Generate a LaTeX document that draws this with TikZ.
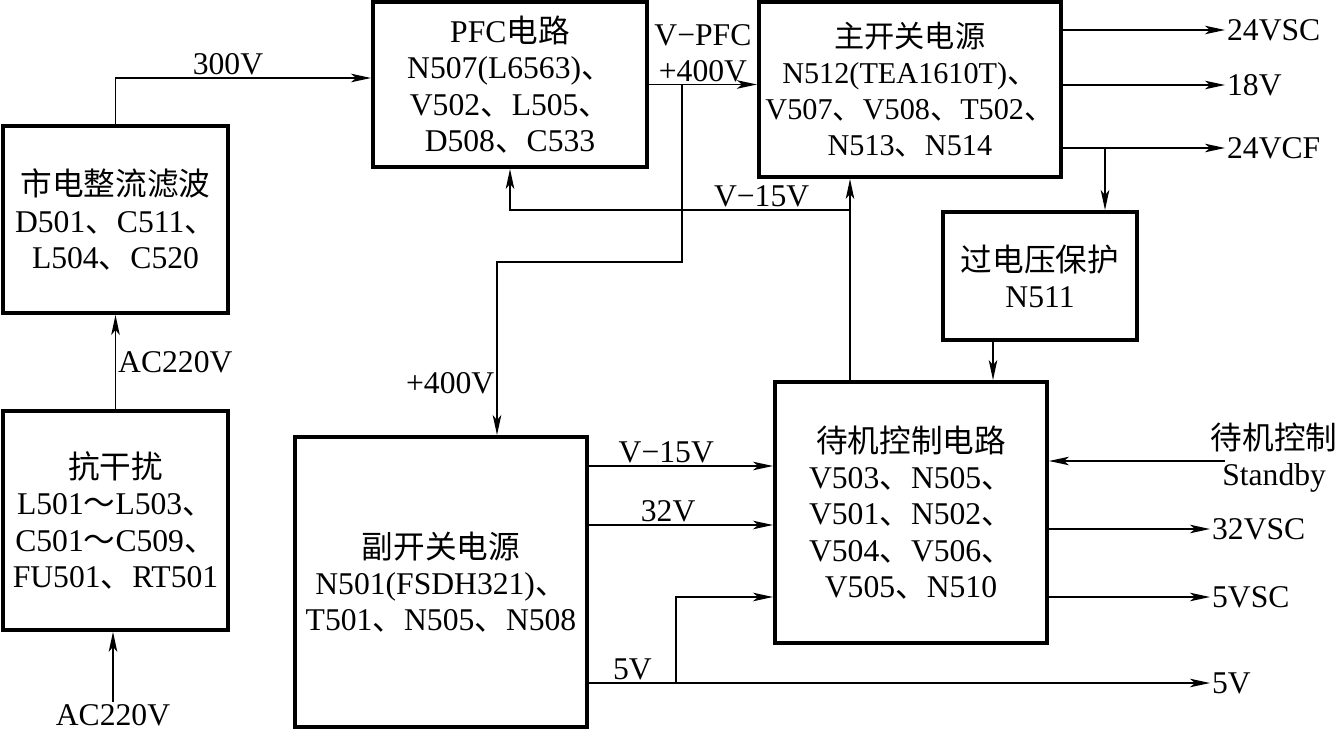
\documentclass[tikz,border=0pt]{standalone}
\usepackage{fontspec}
\setmainfont{Liberation Serif}
\newfontfamily\cjk{Noto Sans CJK SC}
\newcommand{\zh}[1]{{\cjk #1}}
\usetikzlibrary{arrows.meta, positioning}

\begin{document}
\begin{tikzpicture}[
    block/.style={rectangle, draw=black, line width=2.2pt, inner xsep=1pt, align=center, font=\fontsize{18}{20.6}\selectfont},
    sig/.style={inner sep=1pt, font=\fontsize{18}{20.6}\selectfont},
    line/.style={draw=black, line width=1.1pt, -{Stealth[length=4mm, width=1.7mm, inset=1mm]}}
]
    \useasboundingbox (0,0) rectangle (26.8,-14.62);

    % Input chain
    \node[block, minimum width=4.5cm, minimum height=3.74cm] (rect) at (2.31,-4.39) {\zh{市电整流滤波}\\D501\zh{、}C511\zh{、}\\L504\zh{、}C520};
    \node[block, minimum width=4.5cm, minimum height=4.38cm, below=1.88cm of rect] (noise) {\zh{抗干扰}\\L501\zh{～}L503\zh{、}\\C501\zh{～}C509\zh{、}\\FU501\zh{、}RT501};
    \node[sig] (aclabel) at (2.26,-14.3) {AC220V};

    % PFC and main supply
    \node[block, minimum width=5.48cm, minimum height=3.3cm] (pfc) at (10.2,-1.69) {PFC\zh{电路}\\N507(L6563)\zh{、}\\V502\zh{、}L505\zh{、}\\D508\zh{、}C533};
    \node[block, minimum width=6.04cm, minimum height=3.5cm, font=\fontsize{17.2}{20.6}\selectfont, right=2.16cm of pfc.north east, anchor=north west] (mainsw) {\zh{主开关电源}\\N512(TEA1610T)\zh{、}\\V507\zh{、}V508\zh{、}T502\zh{、}\\N513\zh{、}N514};
    \node[block, minimum width=3.88cm, minimum height=2.56cm] (ovp) at (20.8,-5.52) {\zh{过电压保护}\\N511};

    % Standby and auxiliary supply
    \node[block, minimum width=5.44cm, minimum height=5.22cm] (stby) at (18.22,-10.25) {\zh{待机控制电路}\\V503\zh{、}N505\zh{、}\\V501\zh{、}N502\zh{、}\\V504\zh{、}V506\zh{、}\\V505\zh{、}N510};
    \node[block, minimum width=5.84cm, minimum height=5.8cm] (aux) at (8.82,-11.64) {\zh{副开关电源}\\N501(FSDH321)\zh{、}\\T501\zh{、}N505\zh{、}N508};

    % Outputs
    \node[sig, anchor=west] (o24sc) at (24.5,-0.6) {24VSC};
    \node[sig, anchor=west] (o18) at (24.5,-1.7) {18V};
    \node[sig, anchor=west] (o24cf) at (24.5,-2.96) {24VCF};
    \node[sig, align=center, anchor=east] (stbyctl) at (26.79,-9.16) {\zh{待机控制}\\Standby};
    \node[sig, anchor=west] (o32sc) at (24.2,-10.58) {32VSC};
    \node[sig, anchor=west] (o5sc) at (24.2,-11.94) {5VSC};
    \node[sig, anchor=west] (o5) at (24.2,-13.66) {5V};

    \coordinate (tap) at ([xshift=6.6mm]pfc.east);
    \coordinate (bend) at (9.94,-5.24);
    \coordinate (fb) at ([xshift=-1.22cm]stby.north);
    \coordinate (cftap) at (22.1,-2.96);
    \coordinate (ovpout) at ([xshift=-0.94cm]ovp.south);
    \coordinate (stbyin) at (24.5,-9.22);
    \coordinate (v15) at ([yshift=2.32cm]aux.east);
    \coordinate (v32) at ([yshift=1.14cm]aux.east);
    \coordinate (fivetap) at (13.52,-13.66);

    % Connectors
    \draw[line] (aclabel.north) -- (aclabel.north |- noise.south);
    \draw[line] (noise) -- node[right, sig] {AC220V} (rect);
    \draw[line] (rect.north) |- node[pos=0.72, above, sig] {300V} ([yshift=1.3mm]pfc.west);
    \draw[line] (pfc.east) -- node[above, sig, align=center] {V−PFC\\+400V} (pfc.east -| mainsw.west);
    \draw[line] (tap) |- (bend) -- node[pos=0.7, left, sig] {+400V} (bend |- aux.north);
    \draw[line] (fb) -- (fb |- mainsw.south);
    \draw[line] (fb |- ovp.north) -| node[pos=0.13, above, sig] {V−15V} (pfc.south);
    \draw[line] (mainsw.east |- o24sc) -- (o24sc);
    \draw[line] (mainsw.east |- o18) -- (o18);
    \draw[line] (mainsw.east |- o24cf) -- (o24cf);
    \draw[line] (cftap) -- (cftap |- ovp.north);
    \draw[line] (ovpout) -- (ovpout |- stby.north);
    \draw[line] (stbyin) -- (stbyin -| stby.east);
    \draw[line] (stby.east |- o32sc) -- (o32sc);
    \draw[line] (stby.east |- o5sc) -- (o5sc);
    \draw[line] (v15) -- node[pos=0.42, above, sig] {V−15V} (v15 -| stby.west);
    \draw[line] (v32) -- node[pos=0.43, above, sig] {32V} (v32 -| stby.west);
    \draw[line] (aux.east |- o5) -- node[pos=0.07, above, sig] {5V} (o5);
    \draw[line] (fivetap) |- (o5sc -| stby.west);
\end{tikzpicture}
\end{document}
